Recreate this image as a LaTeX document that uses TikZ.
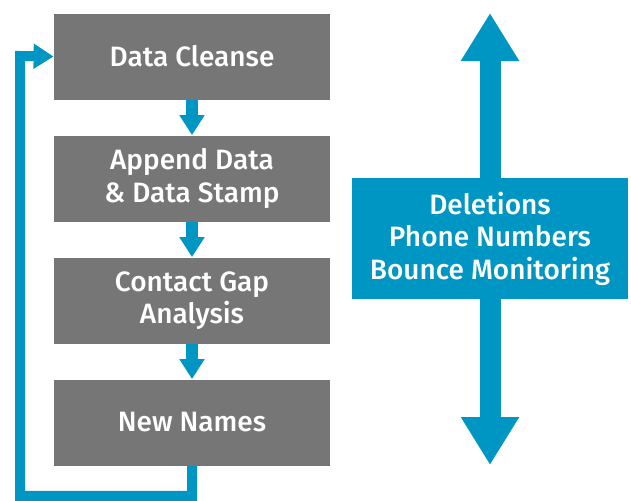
\documentclass[tikz,border=0pt]{standalone}
\usepackage{fontspec}
\setmainfont{Fira Sans}[UprightFont = * Medium]
\usepackage{xcolor}
\usetikzlibrary{arrows.meta,positioning,shapes,calc}
\definecolor{stepgray}{HTML}{767676}
\definecolor{flowblue}{HTML}{0096C4}

\begin{document}
\begin{tikzpicture}[x = .5pt, y = -.5pt,
  stepbox/.style = {fill = stepgray, text = white, minimum width = 138pt, minimum height = 43pt, align = center, font = \fontsize{14}{16.2}\selectfont},
  infobox/.style = {fill = flowblue, text = white, minimum width = 138pt, minimum height = 60.5pt, align = center, font = \fontsize{14}{16.2}\selectfont},
  flow/.style = {draw = flowblue, line width = 6pt, -{Triangle[width = 12pt, length = 10pt]}},
  bigflow/.style = {draw = flowblue, line width = 10.5pt, -{Triangle[width = 27.5pt, length = 24pt]}}]
  \useasboundingbox (0,0) rectangle (631,500);
  \node[stepbox] (cleanse) at (192,56.5) {Data Cleanse};
  \node[stepbox] (append) at (192,178.5) {Append Data\\\& Data Stamp};
  \node[stepbox] (gap) at (192,300.5) {Contact Gap\\Analysis};
  \node[stepbox] (new) at (192,422.5) {New Names};
  \coordinate (loop) at (20,56);
  \coordinate (top) at (490,13);
  \coordinate (bottom) at (490,465);
  % arrows between the steps
  \draw[flow] (cleanse) -- (append);
  \draw[flow] (append) -- (gap);
  \draw[flow] (gap) -- (new);
  \draw[flow, line width = 5pt, line join = miter] (new.south) -- ++(0,30) -| (loop) -- (cleanse.west);
  % double arrow on the right
  \draw[bigflow] (490,237) -- (top);
  \draw[bigflow] (490,237) -- (bottom);
  \node[infobox] (info) at (490,238.5) {Deletions\\Phone Numbers\\Bounce Monitoring};
\end{tikzpicture}
\end{document}
